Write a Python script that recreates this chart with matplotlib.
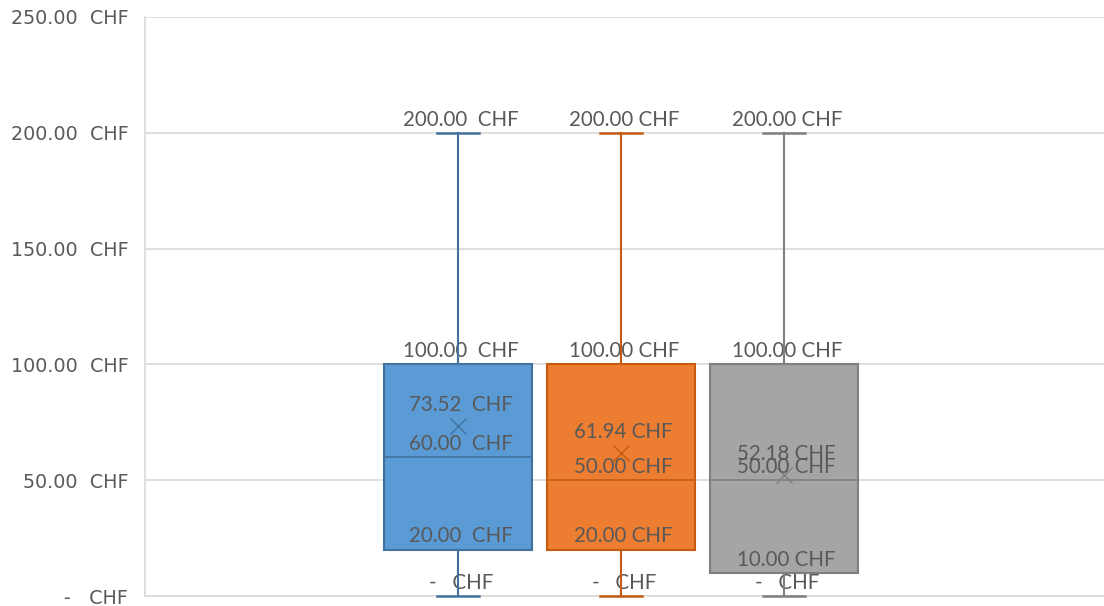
import matplotlib.pyplot as plt

# box statistics per series
series = ["A", "B", "C"]
mins = [0, 0, 0]
q1s = [20, 20, 10]
medians = [60, 50, 50]
q3s = [100, 100, 100]
maxs = [200, 200, 200]
means = [73.52, 61.94, 52.18]

fills = ["#5B9BD5", "#ED7D31", "#A5A5A5"]
edges = ["#41719C", "#C55A11", "#7F7F7F"]
sep = ["  ", " ", " "]

fig = plt.figure(figsize=(11.04, 6.06), dpi=100)
ax = fig.add_axes([145 / 1104, 1 - 596 / 606, 1 - 145 / 1104, (596 - 17) / 606])

positions = [1, 2, 3]
for i in range(len(series)):
    st = [{"whislo": mins[i], "q1": q1s[i], "med": medians[i], "q3": q3s[i],
           "whishi": maxs[i], "mean": means[i], "fliers": []}]
    parts = ax.bxp(st, positions=[positions[i]], widths=0.908, patch_artist=True,
                   showmeans=True, showcaps=True,
                   boxprops=dict(facecolor=fills[i], edgecolor=edges[i], linewidth=1.5),
                   medianprops=dict(color=edges[i], linewidth=1.2),
                   whiskerprops=dict(color=edges[i], linewidth=1.5),
                   capprops=dict(color=edges[i], linewidth=1.8),
                   capwidths=0.26,
                   meanprops=dict(marker="x", markersize=12, markeredgecolor=edges[i],
                                  markeredgewidth=1.0))
    for ln in parts["caps"] + parts["whiskers"]:
        ln.set_clip_on(False)
        ln.set_zorder(4)

    def fmt(v):
        if v == 0:
            return "-   CHF"
        return f"{v:.2f}{sep[i]}CHF"

    for v in [mins[i], q1s[i], medians[i], q3s[i], maxs[i]]:
        ax.annotate(fmt(v), (positions[i], v), xytext=(2, 9.5), textcoords="offset points",
                    ha="center", va="center", fontsize=14.8, color="#595959", family="Lato")
    ax.annotate(fmt(means[i]), (positions[i], means[i]), xytext=(2, 15),
                textcoords="offset points", ha="center", va="center",
                fontsize=14.8, color="#595959", family="Lato")

ax.set_xlim(-0.92, 4.963)
ax.set_ylim(0, 250)
yt = [0, 50, 100, 150, 200, 250]
ax.set_yticks(yt)
ax.set_yticklabels(["-   CHF" if v == 0 else f"{v:.2f}  CHF" for v in yt],
                   fontsize=13.8, color="#595959")
ax.set_xticks([])
ax.tick_params(axis="y", length=0, pad=12)
ax.grid(axis="y", color="#D9D9D9", linewidth=1.2)
ax.set_axisbelow(True)
for s in ["top", "right"]:
    ax.spines[s].set_visible(False)
for s in ["left", "bottom"]:
    ax.spines[s].set_color("#D9D9D9")
    ax.spines[s].set_linewidth(1.2)
    ax.spines[s].set_zorder(0.5)

fig.savefig("out.png", dpi=100)
